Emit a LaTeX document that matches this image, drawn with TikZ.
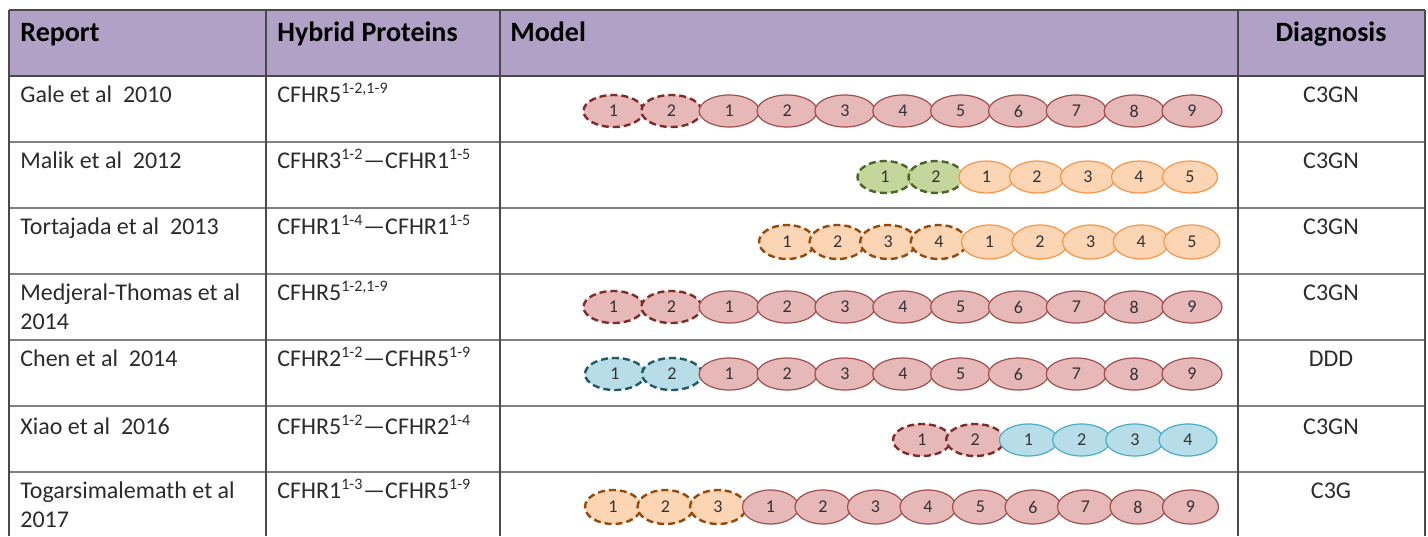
\documentclass[tikz,border=0pt]{standalone}
\usepackage{fontspec}
\setmainfont{Carlito}
\usetikzlibrary{shapes.geometric}
\definecolor{hdr}{HTML}{B2A1C7}
\definecolor{gridc}{HTML}{4A4A4A}
\definecolor{sepc}{HTML}{808080}
\definecolor{txt}{HTML}{2B2B2B}
\definecolor{numc}{HTML}{333333}
\definecolor{pinkf}{HTML}{E6B9B8}
\definecolor{pinks}{HTML}{A0504F}
\definecolor{pinkd}{HTML}{7F2B2A}
\definecolor{orf}{HTML}{FCD5B5}
\definecolor{ors}{HTML}{F79646}
\definecolor{ord}{HTML}{984807}
\definecolor{grf}{HTML}{C3D69B}
\definecolor{grd}{HTML}{4F6228}
\definecolor{blf}{HTML}{B7DEE8}
\definecolor{bls}{HTML}{4BACC6}
\definecolor{bld}{HTML}{215968}
\tikzset{
  dom/.style={ellipse, inner sep=0pt, font=\fontsize{9}{9}\selectfont, text=numc},
  dsh/.style={line width=1.2pt, dash pattern=on 3.5pt off 2pt},
  sld/.style={line width=0.6pt},
  pd/.style={dom, fill=pinkf, draw=pinkd, dsh},
  ps/.style={dom, fill=pinkf, draw=pinks, sld},
  od/.style={dom, fill=orf, draw=ord, dsh},
  os/.style={dom, fill=orf, draw=ors, sld},
  gd/.style={dom, fill=grf, draw=grd, dsh},
  bd/.style={dom, fill=blf, draw=bld, dsh},
  bs/.style={dom, fill=blf, draw=bls, sld},
  szA/.style={minimum width=30pt, minimum height=16pt},
  szB/.style={minimum width=27.5pt, minimum height=16pt},
  szC/.style={minimum width=28pt, minimum height=17pt},
  szD/.style={minimum width=29pt, minimum height=16pt},
  szE/.style={minimum width=28pt, minimum height=17pt},
  hd/.style={anchor=base west, font=\fontsize{14}{16}\selectfont\bfseries, text=black, inner sep=0pt},
  hdc/.style={anchor=base, font=\fontsize{14}{16}\selectfont\bfseries, text=black, inner sep=0pt},
  bt/.style={anchor=base west, font=\fontsize{12}{14.5}\selectfont, text=txt, inner sep=0pt, align=left},
  bc/.style={anchor=base, font=\fontsize{12}{14.5}\selectfont, text=txt, inner sep=0pt},
  vline/.style={draw=gridc, line width=0.8pt},
  hline/.style={draw=sepc, line width=1.1pt}
}
\begin{document}
\begin{tikzpicture}[x=0.5pt,y=-0.5pt]
\useasboundingbox (0,0) rectangle (1428,536);
% header background
\fill[hdr] (9,10) rectangle (1425,76);
% horizontal separators
\foreach \yy in {142,208,274,340,406,472} \draw[hline] (9,\yy) -- (1425,\yy);
\draw[vline] (9,10) -- (1425,10);
\draw[vline] (9,76) -- (1425,76);
% vertical lines
\foreach \xx in {9,266,500,1238,1425} \draw[vline] (\xx,10) -- (\xx,536);
% header texts
\node[hd] (hrep) at (20,41) {Report};
\node[hd] (hhyb) at (277,41) {Hybrid Proteins};
\node[hd] (hmod) at (510,41) {Model};
\node[hdc] (hdia) at (1331,41) {Diagnosis};
% report column
\node[bt] (rep1) at (20,102) {Gale et al\ \ 2010};
\node[bt] (rep2) at (20,168) {Malik et al\ \ 2012};
\node[bt] (rep3) at (20,234) {Tortajada et al\ \ 2013};
\node[bt, anchor=north west] (rep4) at (20,283) {Medjeral-Thomas et al\\2014};
\node[bt] (rep5) at (20,366) {Chen et al\ \ 2014};
\node[bt] (rep6) at (20,434) {Xiao et al\ \ 2016};
\node[bt, anchor=north west] (rep7) at (20,481) {Togarsimalemath et al\\2017};
% hybrid column
\node[bt] (hyb1) at (277,102) {CFHR5\textsuperscript{1-2,1-9}};
\node[bt] (hyb2) at (277,168) {CFHR3\textsuperscript{1-2}—CFHR1\textsuperscript{1-5}};
\node[bt] (hyb3) at (277,234) {CFHR1\textsuperscript{1-4}—CFHR1\textsuperscript{1-5}};
\node[bt] (hyb4) at (277,300) {CFHR5\textsuperscript{1-2,1-9}};
\node[bt] (hyb5) at (277,366) {CFHR2\textsuperscript{1-2}—CFHR5\textsuperscript{1-9}};
\node[bt] (hyb6) at (277,434) {CFHR5\textsuperscript{1-2}—CFHR2\textsuperscript{1-4}};
\node[bt] (hyb7) at (277,498) {CFHR1\textsuperscript{1-3}—CFHR5\textsuperscript{1-9}};
% diagnosis column
\node[bc] (dia1) at (1331,102) {C3GN};
\node[bc] (dia2) at (1331,168) {C3GN};
\node[bc] (dia3) at (1331,234) {C3GN};
\node[bc] (dia4) at (1331,300) {C3GN};
\node[bc] (dia5) at (1331,366) {DDD};
\node[bc] (dia6) at (1331,434) {C3GN};
\node[bc] (dia7) at (1331,498) {C3G};
% models
\foreach \x/\s/\l [count=\i] in {613.5/pd/1,671.4/pd/2,729.2/ps/1,787.1/ps/2,844.9/ps/3,902.8/ps/4,960.6/ps/5,1018.5/ps/6,1076.3/ps/7,1134.2/ps/8,1192/ps/9}
  \node[\s,szA] (ma\i) at (\x,111) {\l};
\foreach \x/\s/\l [count=\i] in {885/gd/1,936/gd/2,986.5/os/1,1037/os/2,1088/os/3,1139/os/4,1190/os/5}
  \node[\s,szB] (mb\i) at (\x,177) {\l};
\foreach \x/\s/\l [count=\i] in {787/od/1,837.6/od/2,888.2/od/3,938.8/od/4,989.4/os/1,1040/os/2,1090.6/os/3,1141.2/os/4,1191.8/os/5}
  \node[\s,szC] (mc\i) at (\x,242) {\l};
\foreach \x/\s/\l [count=\i] in {613.5/pd/1,671.4/pd/2,729.2/ps/1,787.1/ps/2,844.9/ps/3,902.8/ps/4,960.6/ps/5,1018.5/ps/6,1076.3/ps/7,1134.2/ps/8,1192/ps/9}
  \node[\s,szA] (md\i) at (\x,307) {\l};
\foreach \x/\s/\l [count=\i] in {615/bd/1,672/bd/2,729.2/ps/1,787.1/ps/2,844.9/ps/3,902.8/ps/4,960.6/ps/5,1018.5/ps/6,1076.3/ps/7,1134.2/ps/8,1192/ps/9}
  \node[\s,szA] (me\i) at (\x,374) {\l};
\foreach \x/\s/\l [count=\i] in {922/pd/1,975.2/pd/2,1028.4/bs/1,1081.6/bs/2,1134.8/bs/3,1188/bs/4}
  \node[\s,szD] (mf\i) at (\x,440) {\l};
\foreach \x/\s/\l [count=\i] in {613/od/1,665.5/od/2,718/od/3,770.5/ps/1,823/ps/2,875.5/ps/3,928/ps/4,980.5/ps/5,1033/ps/6,1085.5/ps/7,1138/ps/8,1190.5/ps/9}
  \node[\s,szE] (mg\i) at (\x,507) {\l};
\end{tikzpicture}
\end{document}
